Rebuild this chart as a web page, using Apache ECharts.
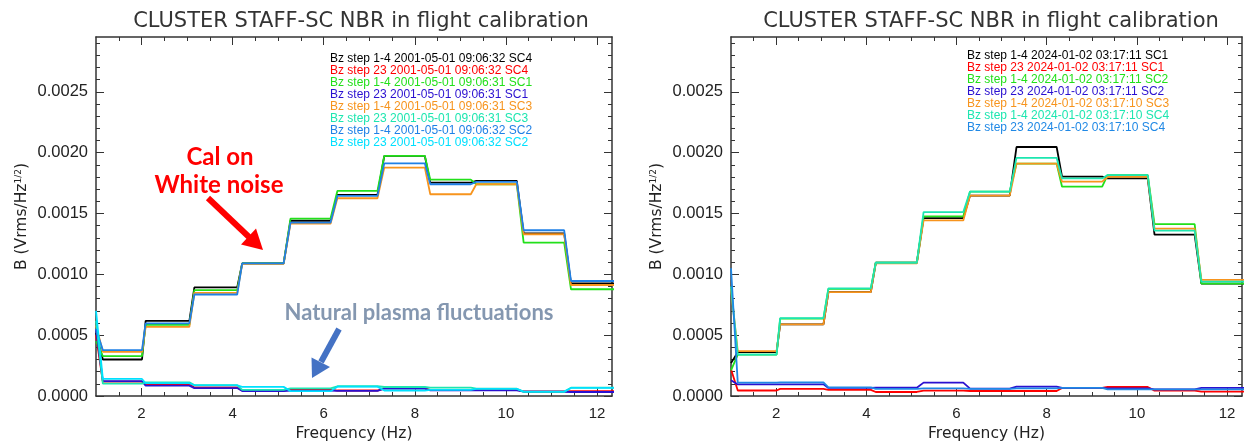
<!DOCTYPE html>
<html>
<head>
<meta charset="utf-8">
<script src="https://cdn.jsdelivr.net/npm/echarts@6/dist/echarts.min.js"></script>
<style>
	html, body { margin: 0; padding: 0; background: #fff; }
	#chart { width: 1247px; height: 443px; }
</style>
</head>
<body>
<div id="chart"></div>
<script>
// frequency bins (Hz): each level is flat from start to end, first value sits at 1 Hz
var freqStart = [1.15, 2.09, 3.16, 4.21, 5.27, 6.30, 7.33, 8.34, 9.35, 10.39, 11.43];
var freqEnd = [2.01, 3.05, 4.10, 5.12, 6.15, 7.18, 8.22, 9.23, 10.24, 11.28, 12.40];

var xTicks = [2, 4, 6, 8, 10, 12];
var yTicks = [0, 0.0005, 0.0010, 0.0015, 0.0020, 0.0025];

// 2001-05-01 (left)
var left14SC4 = [0.00052, 0.000300, 0.000618, 0.000892, 0.00109, 0.00144, 0.001652, 0.001973, 0.001753, 0.001767, 0.001337, 0.000926];
var left23SC4 = [0.00050, 0.000118, 0.000097, 0.000070, 0.000045, 0.000055, 0.000045, 0.000063, 0.000050, 0.000050, 0.000038, 0.000040];
var left14SC1 = [0.00045, 0.000327, 0.000585, 0.000870, 0.00109, 0.001458, 0.001685, 0.001973, 0.001778, 0.001740, 0.001260, 0.000877];
var left23SC1 = [0.00055, 0.000122, 0.000085, 0.000065, 0.000041, 0.000044, 0.000042, 0.000060, 0.000046, 0.000046, 0.000035, 0.000033];
var left14SC3 = [0.00058, 0.000363, 0.000568, 0.000848, 0.001085, 0.001416, 0.001625, 0.001877, 0.001658, 0.001740, 0.001329, 0.000912];
var left23SC3 = [0.00062, 0.000102, 0.000112, 0.000090, 0.000050, 0.000063, 0.000080, 0.000074, 0.000068, 0.000060, 0.000034, 0.000068];
var left14SC2 = [0.00055, 0.000377, 0.000596, 0.000834, 0.00109, 0.001425, 0.001644, 0.001912, 0.001740, 0.001759, 0.001362, 0.000945];
var left23SC2 = [0.00070, 0.000140, 0.000105, 0.000088, 0.000075, 0.000040, 0.000077, 0.000045, 0.000050, 0.000058, 0.000036, 0.000066];

// 2024-01-02 (right)
var right14SC1 = [0.00027, 0.000360, 0.000589, 0.000854, 0.001095, 0.001462, 0.001647, 0.002046, 0.001802, 0.001788, 0.001326, 0.000924];
var right23SC1 = [0.00022, 0.000045, 0.000058, 0.000050, 0.000033, 0.000044, 0.000041, 0.000041, 0.000066, 0.000074, 0.000044, 0.000036];
var right14SC2 = [0.00021, 0.000340, 0.000635, 0.000881, 0.001095, 0.001476, 0.001680, 0.001910, 0.001720, 0.001815, 0.001413, 0.000924];
var right23SC2 = [0.00013, 0.000095, 0.000096, 0.000066, 0.000068, 0.000110, 0.000060, 0.000077, 0.000066, 0.000063, 0.000055, 0.000066];
var right14SC3 = [0.00088, 0.000368, 0.000589, 0.000854, 0.001090, 0.001443, 0.001647, 0.001910, 0.001761, 0.001800, 0.001375, 0.000954];
var right14SC4 = [0.00090, 0.000340, 0.000640, 0.000885, 0.001095, 0.001511, 0.001680, 0.001957, 0.001788, 0.001815, 0.001359, 0.000940];
var right23SC4 = [0.00105, 0.000110, 0.000112, 0.000071, 0.000058, 0.000063, 0.000058, 0.000063, 0.000066, 0.000055, 0.000055, 0.000055];

var leftSeries = [
	['Bz step 1-4 2001-05-01 09:06:32 SC4', left14SC4, '#000000'],
	['Bz step 23 2001-05-01 09:06:32 SC4', left23SC4, '#ff0000'],
	['Bz step 1-4 2001-05-01 09:06:31 SC1', left14SC1, '#22e01a'],
	['Bz step 23 2001-05-01 09:06:31 SC1', left23SC1, '#2a10d0'],
	['Bz step 1-4 2001-05-01 09:06:31 SC3', left14SC3, '#f7941d'],
	['Bz step 23 2001-05-01 09:06:31 SC3', left23SC3, '#1de6b0'],
	['Bz step 1-4 2001-05-01 09:06:32 SC2', left14SC2, '#1f80e6'],
	['Bz step 23 2001-05-01 09:06:32 SC2', left23SC2, '#00e0ff']
];
var rightSeries = [
	['Bz step 1-4 2024-01-02 03:17:11 SC1', right14SC1, '#000000'],
	['Bz step 23 2024-01-02 03:17:11 SC1', right23SC1, '#ff0000'],
	['Bz step 1-4 2024-01-02 03:17:11 SC2', right14SC2, '#22e01a'],
	['Bz step 23 2024-01-02 03:17:11 SC2', right23SC2, '#2a10d0'],
	['Bz step 1-4 2024-01-02 03:17:10 SC3', right14SC3, '#f7941d'],
	['Bz step 1-4 2024-01-02 03:17:10 SC4', right14SC4, '#1de6b0'],
	['Bz step 23 2024-01-02 03:17:10 SC4', right23SC4, '#1f88e5']
];

var X_MAX = 12.33, Y_MAX = 0.00295;
var AXIS_COLOR = '#333';

function stepPoints(vals) {
	var pts = [[1, vals[0]]];
	for (var i = 0; i < freqStart.length; i++) {
		pts.push([freqStart[i], vals[i + 1]]);
		pts.push([freqEnd[i], vals[i + 1]]);
	}
	return pts;
}

var xMinor = [], yMinor = [];
for (var f = 1.5; f <= X_MAX; f += 0.5) xMinor.push(f);
for (var k = 1; k * 0.0001 <= Y_MAX; k++) yMinor.push(k * 0.0001);

function xAxes(g) {
	var base = {
		type: 'value', gridIndex: g, min: 1, max: X_MAX,
		splitLine: { show: false },
		axisLine: { show: false, onZero: false },
		axisLabel: { show: false },
		axisTick: { show: true, inside: true, length: 4, customValues: xMinor, lineStyle: { color: AXIS_COLOR } }
	};
	return [
		echarts.util.merge({
			position: 'bottom',
			axisLine: { show: true, lineStyle: { color: AXIS_COLOR, width: 1.5 } },
			axisTick: { length: 8, customValues: xTicks },
			axisLabel: { show: true, customValues: xTicks, margin: 10, color: '#222', fontFamily: 'Liberation Sans', fontSize: 15 },
			name: 'Frequency (Hz)', nameLocation: 'middle', nameGap: 30,
			nameTextStyle: { fontFamily: 'DejaVu Sans', fontSize: 15.5, color: '#222' }
		}, base),
		echarts.util.merge({ position: 'bottom' }, echarts.util.clone(base)),
		echarts.util.merge({
			position: 'top',
			axisLine: { show: true, lineStyle: { color: AXIS_COLOR, width: 1.5 } },
			axisTick: { length: 8, customValues: xTicks }
		}, echarts.util.clone(base)),
		echarts.util.merge({ position: 'top' }, echarts.util.clone(base))
	];
}

function yAxes(g) {
	var base = {
		type: 'value', gridIndex: g, min: 0, max: Y_MAX,
		splitLine: { show: false },
		axisLine: { show: false, onZero: false },
		axisLabel: { show: false },
		axisTick: { show: true, inside: true, length: 4, customValues: yMinor, lineStyle: { color: AXIS_COLOR } }
	};
	return [
		echarts.util.merge({
			position: 'left',
			axisLine: { show: true, lineStyle: { color: AXIS_COLOR, width: 1.5 } },
			axisTick: { length: 8, customValues: yTicks },
			axisLabel: {
				show: true, customValues: yTicks, margin: 8, color: '#222',
				fontFamily: 'Liberation Sans', fontSize: 16.5,
				formatter: function(v) { return v.toFixed(4); }
			},
			name: 'B (Vrms/Hz{sup|1/2})', nameLocation: 'middle', nameGap: 66,
			nameTextStyle: {
				fontFamily: 'DejaVu Sans', fontSize: 15.5, color: '#222',
				rich: { sup: { fontFamily: 'DejaVu Sans', fontSize: 9, color: '#222', verticalAlign: 'top', padding: [0, 0, 6, 0] } }
			}
		}, base),
		echarts.util.merge({ position: 'left' }, echarts.util.clone(base)),
		echarts.util.merge({
			position: 'right',
			axisLine: { show: true, lineStyle: { color: AXIS_COLOR, width: 1.5 } },
			axisTick: { length: 8, customValues: yTicks }
		}, echarts.util.clone(base)),
		echarts.util.merge({ position: 'right' }, echarts.util.clone(base))
	];
}

function lineSeries(list, g) {
	return list.map(function(s) {
		return {
			name: s[0], type: 'line',
			xAxisIndex: g * 4, yAxisIndex: g * 4,
			data: stepPoints(s[1]),
			showSymbol: false, symbol: 'none', clip: true,
			color: s[2],
			lineStyle: { color: s[2], width: 1.8 },
			emphasis: { disabled: true }
		};
	});
}

function legendFor(list, left, top) {
	return {
		orient: 'vertical', left: left, top: top, padding: 0,
		itemGap: 0, itemWidth: 0, itemHeight: 11.7, icon: 'none',
		selectedMode: false,
		textStyle: { fontFamily: 'Liberation Sans', fontSize: 12, lineHeight: 11.7 },
		data: list.map(function(s) {
			return { name: s[0], textStyle: { color: s[2] } };
		})
	};
}

var chart = echarts.init(document.getElementById('chart'), null, { renderer: 'canvas' });

var titleStyle = { fontFamily: 'DejaVu Sans', fontSize: 21, fontWeight: 'normal', color: '#333' };

var option = {
	animation: false,
	backgroundColor: '#fff',
	title: [
		{ text: 'CLUSTER STAFF-SC NBR in flight calibration', left: 356, top: 6, textAlign: 'center', textStyle: titleStyle },
		{ text: 'CLUSTER STAFF-SC NBR in flight calibration', left: 986, top: 6, textAlign: 'center', textStyle: titleStyle }
	],
	// fixed plot boxes, no auto shrinking for labels
	grid: [
		{ left: 96, top: 37, width: 516, height: 359, outerBoundsMode: 'none', containLabel: false },
		{ left: 731, top: 37, width: 511, height: 359, outerBoundsMode: 'none', containLabel: false }
	],
	xAxis: xAxes(0).concat(xAxes(1)),
	yAxis: yAxes(0).concat(yAxes(1)),
	legend: [legendFor(leftSeries, 325, 53), legendFor(rightSeries, 962, 50)],
	series: lineSeries(leftSeries, 0).concat(lineSeries(rightSeries, 1)),
	graphic: [
		// red annotation
		{ type: 'text', x: 220, y: 157, style: { text: 'Cal on', fill: '#ff0000', font: 'bold 24px Lato', align: 'center', verticalAlign: 'middle' } },
		{ type: 'text', x: 219, y: 185, style: { text: 'White noise', fill: '#ff0000', font: 'bold 24px Lato', align: 'center', verticalAlign: 'middle' } },
		{ type: 'line', shape: { x1: 208, y1: 198, x2: 249, y2: 237 }, style: { stroke: '#ff0000', lineWidth: 6 } },
		{ type: 'polygon', shape: { points: [[263, 250], [241, 244.5], [256, 228.5]] }, style: { fill: '#ff0000' } },
		// blue annotation
		{ type: 'text', x: 419, y: 313, style: { text: 'Natural plasma fluctuations', fill: '#8497b0', font: 'bold 22px Lato', align: 'center', verticalAlign: 'middle' } },
		{ type: 'line', shape: { x1: 339, y1: 329, x2: 321, y2: 362 }, style: { stroke: '#4472c4', lineWidth: 6 } },
		{ type: 'polygon', shape: { points: [[312, 378], [311.5, 357.5], [330, 367]] }, style: { fill: '#4472c4' } }
	]
};

chart.setOption(option);
</script>
</body>
</html>
